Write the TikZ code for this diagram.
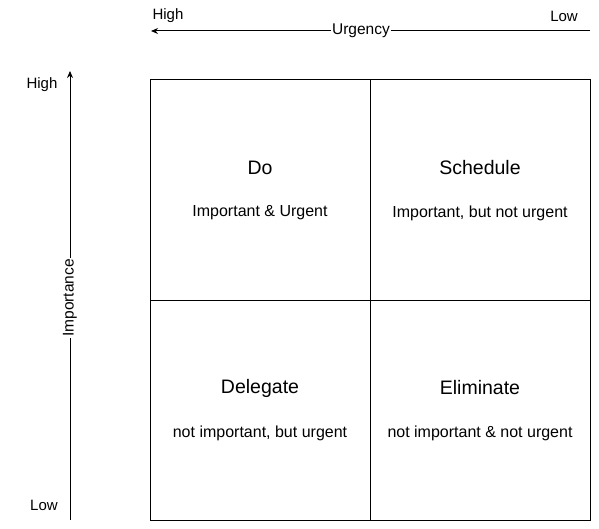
\documentclass[tikz,border=0pt]{standalone}
\usepackage{fontspec}
\setmainfont{Liberation Sans}
\usetikzlibrary{arrows.meta}
\begin{document}
\begin{tikzpicture}[x=1pt,y=-1pt,
  cell/.style={draw=black,line width=1pt,minimum width=220pt,minimum height=220pt,inner sep=0pt},
  title/.style={font=\fontsize{19.5}{22}\selectfont,inner sep=0pt},
  sub/.style={font=\fontsize{16}{18}\selectfont,inner sep=0pt},
  axislbl/.style={font=\fontsize{15}{18}\selectfont,inner sep=0pt},
  axis/.style={line width=1pt,-{Stealth[length=7pt,width=6pt]}},
  mid/.style={fill=white,inner sep=1pt,font=\fontsize{15.5}{18}\selectfont}]
\useasboundingbox (0,0) rectangle (599,529);
\node[cell] (q1) at (260,190) {};
\node[cell] (q2) at (480,190) {};
\node[cell] (q3) at (260,410) {};
\node[cell] (q4) at (480,410) {};
\node[title] (t1) at (260,168) {Do};
\node[sub] (s1) at (260,213) {Important \& Urgent};
\node[title] (t2) at (480,168) {Schedule};
\node[sub] (s2) at (480,213) {Important, but not urgent};
\node[title] (t3) at (260,388) {Delegate};
\node[sub] (s3) at (260,433) {not important, but urgent};
\node[title] (t4) at (480,388) {Eliminate};
\node[sub] (s4) at (480,433) {not important \& not urgent};
% urgency axis
\coordinate (ua) at (590,31);
\coordinate (ub) at (151,31);
\draw[axis] (ua) -- (ub);
\node[mid] (ul) at (361,31) {Urgency};
\node[axislbl] (uh) at (168,16) {High};
\node[axislbl] (ulo) at (564,16) {Low};
% importance axis
\coordinate (ia) at (70,520);
\coordinate (ib) at (70,71);
\draw[axis] (ia) -- (ib);
\node[mid,rotate=90] (il) at (70,298) {Importance};
\node[axislbl] (ih) at (42,85) {High};
\node[axislbl] (ilo) at (44,505) {Low};
\end{tikzpicture}
\end{document}
